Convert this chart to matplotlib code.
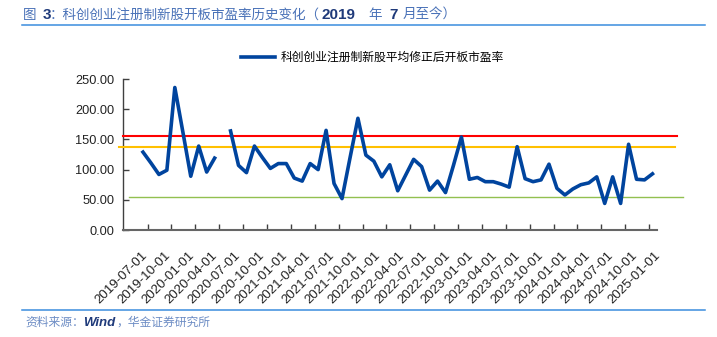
import numpy as np
import pandas as pd
import matplotlib
matplotlib.use("Agg")
import matplotlib.pyplot as plt
from matplotlib.lines import Line2D

plt.rcParams['font.family'] = ['Liberation Sans', 'Noto Sans CJK SC', 'DejaVu Sans']

# monthly data, first point 2019-07 (NaN = no data that month)
months = pd.date_range('2019-07-01', periods=65, freq='MS')
pe_values = [129, 111, 92, 99, 236, 163, 89, 139, 96, 119,
             np.nan, 164, 107, 95, 139, 120, 102, 110, 110, 86,
             81, 110, 100, 165, 77, 52, 119, 185, 124, 114,
             88, 108, 65, 91, 117, 105, 66, 81, 62, 107,
             154, 84, 87, 80, 80, 76, 71, 138, 85, 80,
             83, 109, 69, 58, 68, 75, 78, 88, 44, 88,
             44, 142, 84, 83, 93]
red_level = 155
orange_level = 137
green_level = 55

tick_labels = [d.strftime('%Y-%m-%d') for d in pd.date_range('2019-07-01', '2025-01-01', freq='QS')]
series_name = '科创创业注册制新股平均修正后开板市盈率'

CJK_BLUE = '#4A72B8'
NAVY = '#1F3A7A'

fig = plt.figure(figsize=(7.17, 3.37), dpi=100)
ax = fig.add_axes([0.172, 0.3175, 0.744, 0.448])

x = np.arange(len(months))
ax.plot(x, pe_values, color='#00449E', lw=2.6, solid_joinstyle='round', label=series_name, zorder=5)

# reference levels (drawn a bit past the plot area like the original)
ax.plot([-2.5, 67.1], [red_level] * 2, color='#FF0000', lw=1.5, clip_on=False, zorder=3)
ax.plot([-3.0, 66.8], [orange_level] * 2, color='#FFC000', lw=1.5, clip_on=False, zorder=3)
ax.plot([-1.8, 67.8], [green_level] * 2, color='#92C050', lw=1.0, clip_on=False, zorder=3)

ax.set_xlim(-2.47, 64.54)
ax.set_ylim(0, 250)
ax.set_yticks(np.arange(0, 251, 50))
ax.set_yticklabels(['%.2f' % v for v in np.arange(0, 251, 50)])

# tick marks every quarter, labels placed like the source chart
ax.set_xticks(-2.42 + 3 * np.arange(1, 23))
ax.set_xticklabels([])
ax.set_xticks(np.linspace(-0.2, 64.2, len(tick_labels)), minor=True)
ax.set_xticklabels(tick_labels, minor=True, rotation=45, ha='right', va='top',
                   rotation_mode='anchor', fontsize=9.5, color='#222222')
ax.tick_params(axis='x', which='minor', length=0, pad=14)
ax.tick_params(axis='x', which='major', direction='in', length=4, width=1, color='#404040')
ax.tick_params(axis='y', direction='in', length=4, width=1, color='#404040',
               labelsize=9.2, labelcolor='#222222', pad=6.5)

for s in ['top', 'right']:
    ax.spines[s].set_visible(False)
ax.spines['left'].set_color('#404040')
ax.spines['left'].set_linewidth(1.0)
ax.spines['bottom'].set_color('#666666')
ax.spines['bottom'].set_linewidth(1.5)

fig.legend(loc='center', bbox_to_anchor=(0.5195, 0.828), frameon=False,
           fontsize=8.5, handlelength=2.9, handletextpad=0.45)

# title, written in pieces: CJK in light blue, numbers in bold navy
ty = 1 - 15 / 337
title_parts = [(22.7, '图', CJK_BLUE, 'normal'),
               (42.5, '3', NAVY, 'bold'),
               (50.0, '：科创创业注册制新股开板市盈率历史变化（', CJK_BLUE, 'normal'),
               (322.0, '2019', NAVY, 'bold'),
               (368.0, '年', CJK_BLUE, 'normal'),
               (389.0, '7', NAVY, 'bold'),
               (403.0, '月至今）', CJK_BLUE, 'normal')]
for px, txt, col, wt in title_parts:
    fig.text(px / 717, ty, txt, fontsize=9.75 if wt == 'normal' else 11,
             color=col, fontweight=wt, va='center', ha='left')

fig.add_artist(Line2D([22 / 717, 705 / 717], [1 - 25 / 337] * 2, color='#3A8DDE', lw=1.1))
fig.add_artist(Line2D([22 / 717, 705 / 717], [1 - 310 / 337] * 2, color='#3A8DDE', lw=1.1))

sy = 1 - 323 / 337
fig.text(25 / 717, sy, '资料来源：', fontsize=8.5, color='#6C8CC4', va='center', ha='left')
fig.text(83 / 717, sy, 'Wind', fontsize=9.5, color=NAVY, style='italic', fontweight='bold',
         va='center', ha='left')
fig.text(116 / 717, sy, '，华金证券研究所', fontsize=8.5, color='#6C8CC4', va='center', ha='left')

fig.savefig('out.png', dpi=100)
